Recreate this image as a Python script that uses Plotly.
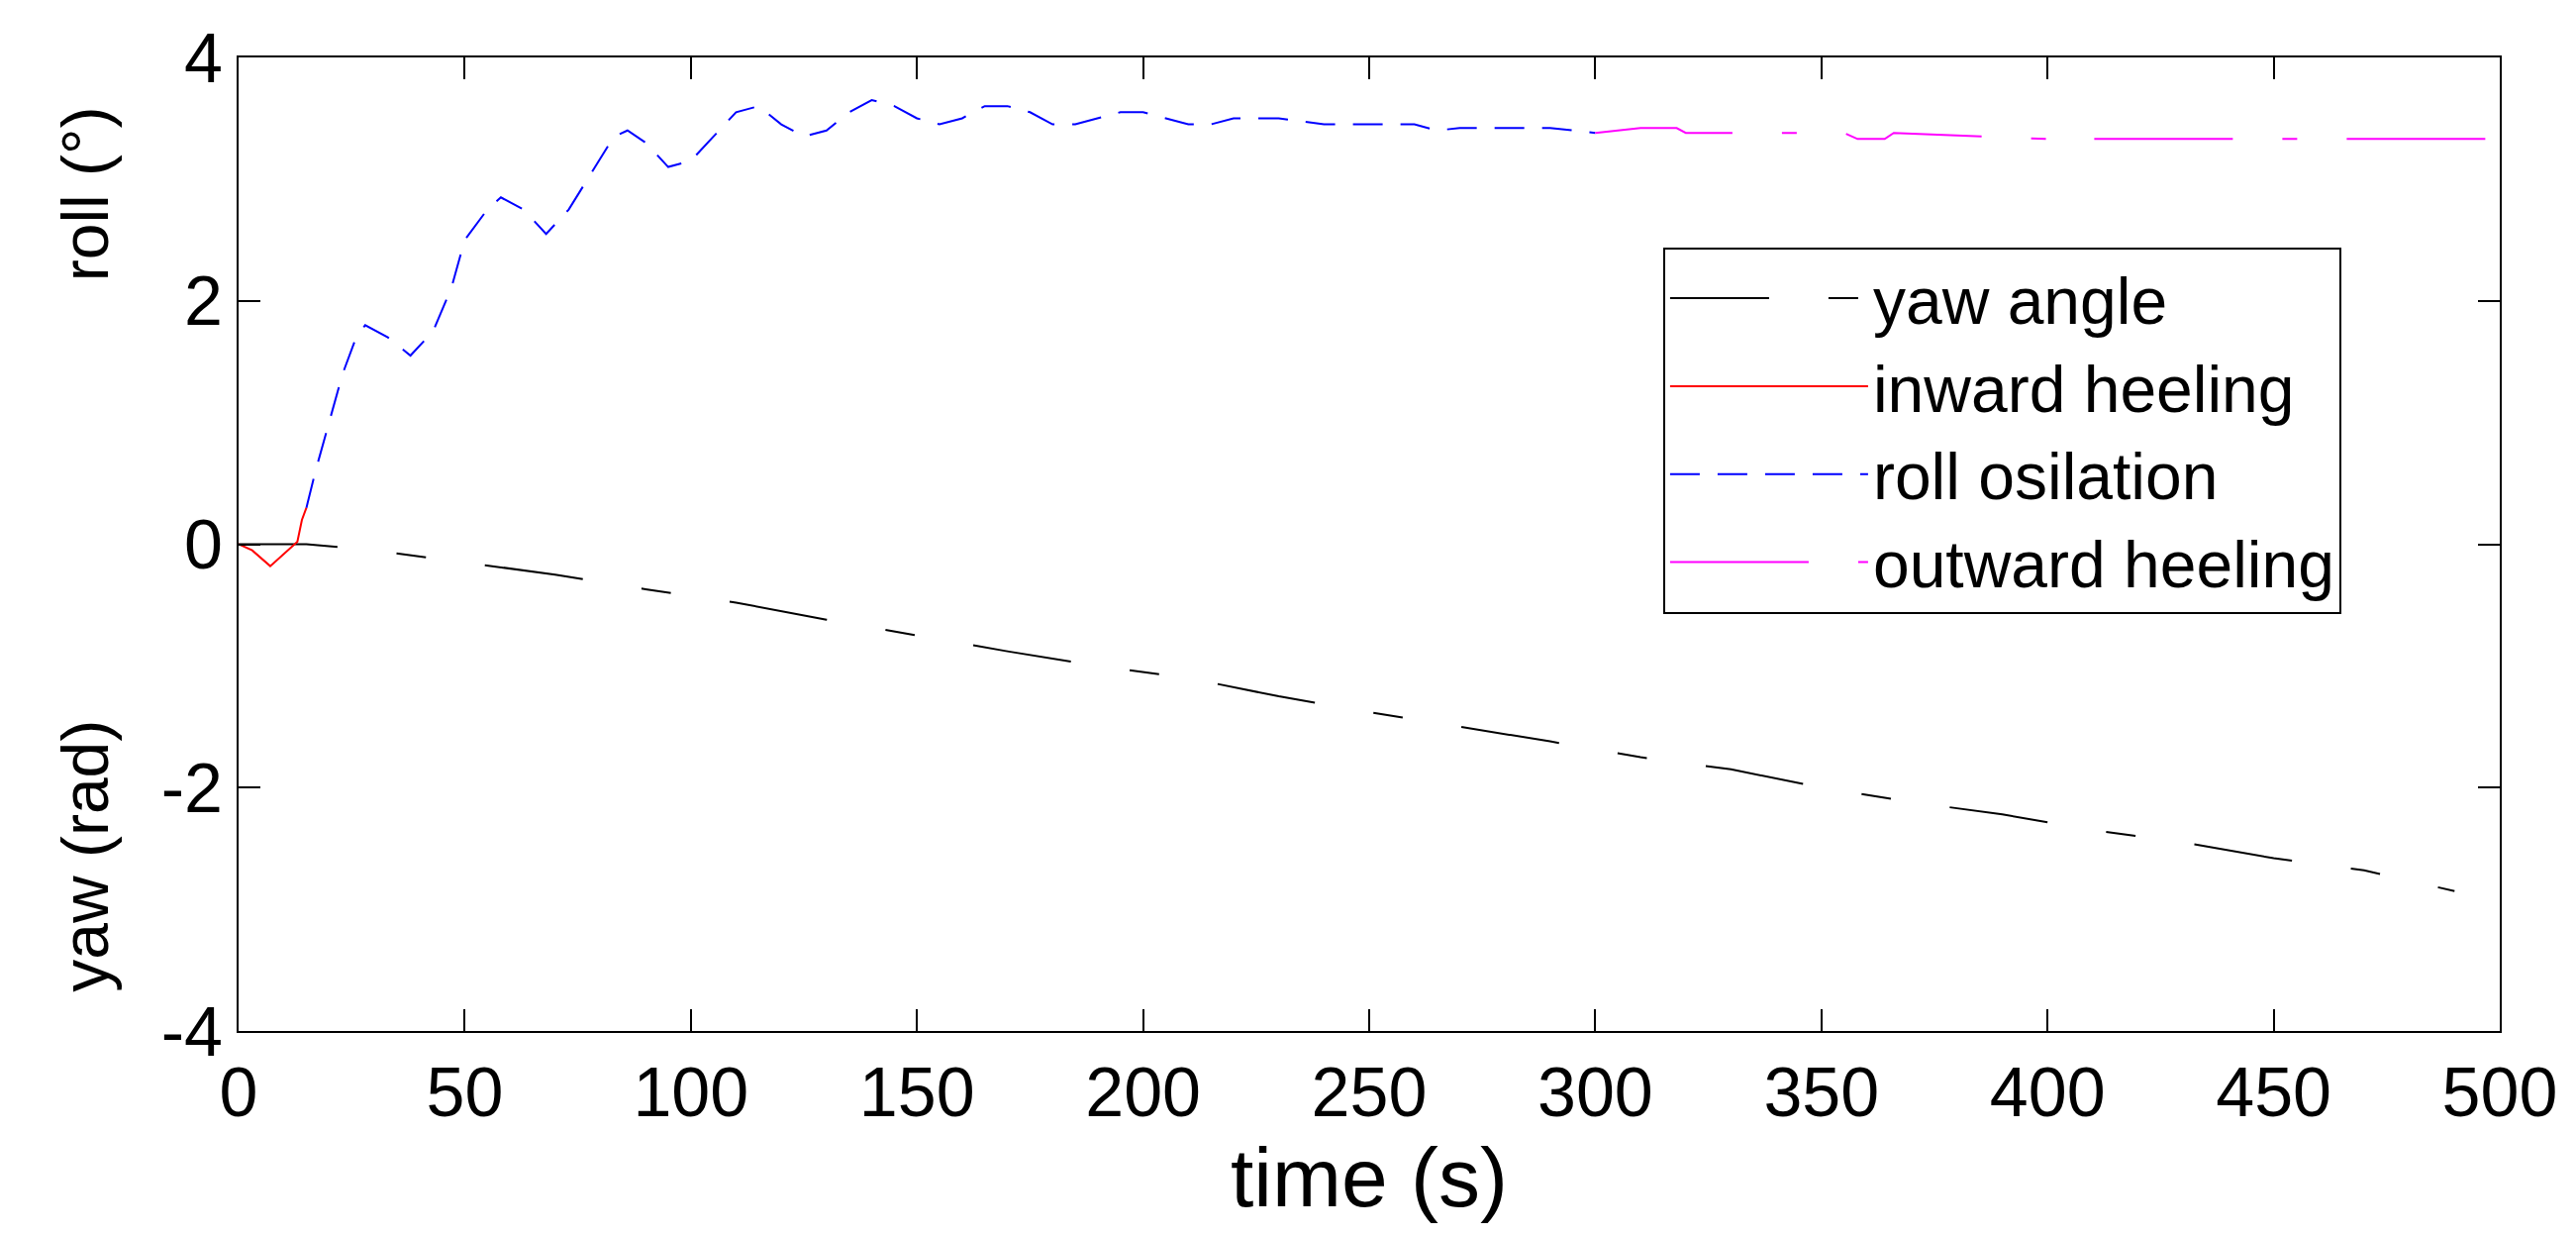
import plotly.graph_objects as go

inward_t = [0, 3, 7, 10, 13, 14, 15]
inward_v = [0, -0.05, -0.18, -0.08, 0.02, 0.2, 0.3]
roll_t = [15, 17, 20, 23, 26, 28, 33, 38, 43, 47, 50, 55, 58, 63, 68, 73, 78, 83, 86, 90, 95, 100, 105, 110, 115,
          120, 125, 130, 135, 140, 145, 150, 155, 160, 165, 170, 175, 180, 185, 190, 195, 200, 205, 210, 215, 220,
          230, 240, 250, 260, 265, 270, 280, 290, 300]
roll_v = [0.3, 0.6, 1.0, 1.4, 1.7, 1.8, 1.7, 1.55, 1.75, 2.1, 2.5, 2.75, 2.85, 2.75, 2.55, 2.75, 3.05, 3.35, 3.4,
          3.3, 3.1, 3.15, 3.35, 3.55, 3.6, 3.45, 3.35, 3.4, 3.55, 3.65, 3.6, 3.5, 3.45, 3.5, 3.6, 3.6, 3.55, 3.45,
          3.45, 3.5, 3.55, 3.55, 3.5, 3.45, 3.45, 3.5, 3.5, 3.45, 3.45, 3.45, 3.4, 3.42, 3.42, 3.42, 3.38]
out_t = [300, 310, 318, 320, 355, 358, 364, 366, 400, 402, 405, 500]
out_v = [3.38, 3.42, 3.42, 3.38, 3.38, 3.33, 3.33, 3.38, 3.33, 3.36, 3.33, 3.33]
yaw_t = [0, 15, 30, 50, 70, 90, 110, 130, 150, 170, 190, 210, 230, 250, 270, 290, 310, 330, 350, 370, 390, 410,
         430, 450, 470, 490]
yaw_v = [0, 0, -0.05, -0.15, -0.25, -0.37, -0.48, -0.62, -0.75, -0.88, -1.0, -1.1, -1.25, -1.38, -1.5, -1.62,
         -1.75, -1.85, -2.0, -2.12, -2.22, -2.35, -2.45, -2.58, -2.68, -2.85]
y_ticks = [-4, -2, 0, 2, 4]
y_labels = ["-4", "-2", "0", "2", "4"]

fig = go.Figure()
fig.add_trace(go.Scatter(x=yaw_t, y=yaw_v, mode="lines", name="yaw angle",
                         line=dict(color="black", width=2, dash="100px,60px,30px,60px")))
fig.add_trace(go.Scatter(x=inward_t, y=inward_v, mode="lines", name="inward heeling",
                         line=dict(color="red", width=2)))
fig.add_trace(go.Scatter(x=roll_t, y=roll_v, mode="lines", name="roll osilation",
                         line=dict(color="blue", width=2, dash="30px,18px")))
fig.add_trace(go.Scatter(x=out_t, y=out_v, mode="lines", name="outward heeling",
                         line=dict(color="magenta", width=2, dash="140px,50px,15px,50px")))

ax = dict(showgrid=False, zeroline=False, showline=True, linecolor="black", linewidth=2, mirror="ticks",
          ticks="inside", ticklen=22, tickcolor="black", tickwidth=2)
fig.update_layout(
    width=2602, height=1248, paper_bgcolor="white", plot_bgcolor="white",
    margin=dict(l=233, r=85, t=50, b=215),
    font=dict(family="Liberation Sans, Arial", size=70, color="black"),
    xaxis=dict(range=[0, 500], dtick=50, title=dict(text="time (s)", standoff=15), **ax),
    yaxis=dict(range=[-4, 4], tickvals=y_ticks, ticktext=y_labels, **ax),
    legend=dict(x=0.63, y=0.805, xanchor="left", yanchor="top", bordercolor="black", borderwidth=2,
                bgcolor="white", font=dict(size=66), itemwidth=200, tracegroupgap=0),
    annotations=[
        dict(text="roll (°)", xref="paper", yref="paper", x=-0.068, y=0.86, textangle=-90, showarrow=False,
             font=dict(size=66), xanchor="center", yanchor="middle"),
        dict(text="yaw (rad)", xref="paper", yref="paper", x=-0.068, y=0.18, textangle=-90, showarrow=False,
             font=dict(size=66), xanchor="center", yanchor="middle"),
    ],
)
fig.write_html("out.html")
